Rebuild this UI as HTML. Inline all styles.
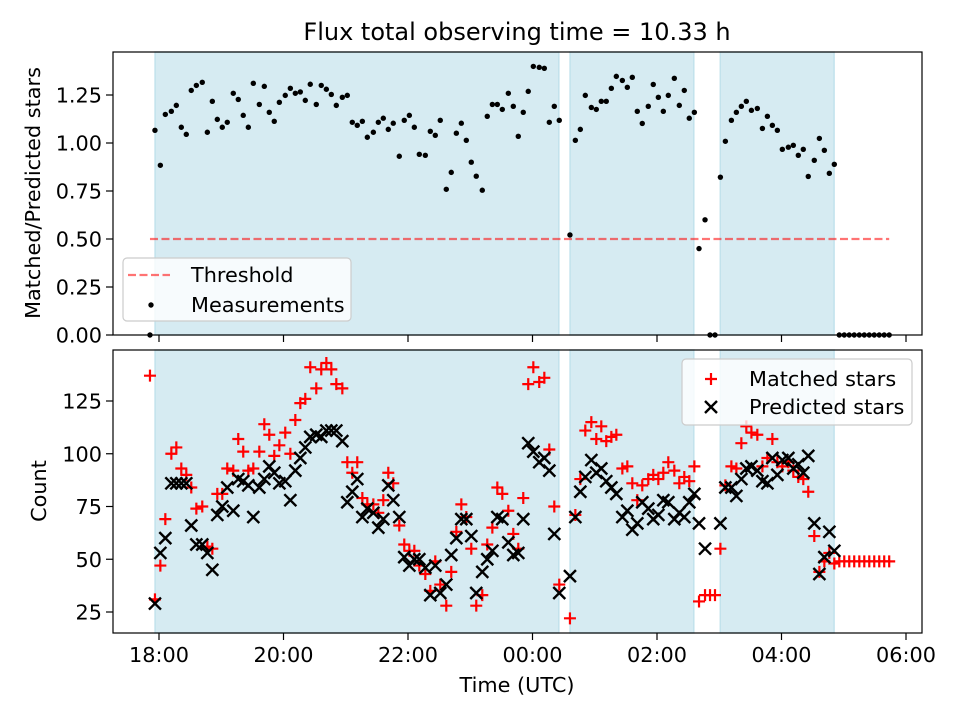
<!DOCTYPE html>
<html><head><meta charset="utf-8"><style>
html,body{margin:0;padding:0;background:#fff;}
svg{display:block;font-family:"DejaVu Sans","Liberation Sans",sans-serif;}
</style></head><body>
<svg id="chart" width="960" height="720" viewBox="0 0 960 720" xmlns="http://www.w3.org/2000/svg"></svg>
<script>
// times in minutes since 18:00 UTC
const times = [-8.7,-3.9,1.3,6.1,11.9,16.7,21.5,26.3,31.1,36.0,41.7,46.6,51.4,56.2,61.0,65.8,71.6,76.4,81.2,86.1,90.9,96.7,101.5,106.3,111.1,116.0,121.7,126.6,131.4,136.2,141.0,145.8,151.6,156.4,161.3,166.1,170.9,176.7,181.5,186.3,191.1,196.0,200.8,206.6,211.4,216.2,221.0,225.8,231.6,236.4,241.3,246.1,250.9,256.7,261.5,266.3,271.1,276.9,281.7,286.6,291.4,296.2,301.0,305.8,311.6,316.4,321.3,326.1,330.9,336.7,341.5,346.3,351.1,355.9,360.8,366.5,371.4,376.2,381.0,385.8,396.1,401.3,406.1,410.9,416.7,421.5,426.3,431.1,436.0,440.8,446.6,451.4,456.2,461.0,465.8,471.6,476.4,481.3,486.1,490.9,496.7,501.5,506.3,511.1,516.0,520.5,526.3,531.1,535.9,541.1,545.9,551.7,556.5,561.3,566.1,571.0,576.7,581.6,586.4,591.2,596.0,600.8,606.6,611.4,616.2,621.0,625.8,631.6,636.5,641.3,646.1,650.9,655.7,660.5,665.3,670.1,675.0,679.8,684.6,689.4,694.2,699.0,703.8];
const ratio = [0,1.066,0.884,1.149,1.165,1.196,1.082,1.045,1.274,1.300,1.316,1.056,1.217,1.123,1.082,1.108,1.259,1.227,1.144,1.082,1.311,1.201,1.295,1.160,1.113,1.212,1.248,1.285,1.259,1.266,1.222,1.306,1.201,1.300,1.280,1.253,1.196,1.238,1.248,1.108,1.092,1.113,1.030,1.056,1.108,1.129,1.071,1.103,0.931,1.118,1.144,1.082,0.941,0.936,1.061,1.040,1.118,0.759,0.847,1.051,1.103,1.014,0.900,0.827,0.754,1.139,1.201,1.201,1.175,1.259,1.191,1.035,1.160,1.269,1.399,1.394,1.389,1.108,1.191,1.118,0.521,1.014,1.071,1.248,1.185,1.175,1.217,1.217,1.285,1.347,1.326,1.290,1.342,1.165,1.102,1.191,1.305,1.238,1.165,1.248,1.337,1.196,1.274,1.129,1.160,0.45,0.60,0,0,0.822,1.009,1.118,1.160,1.191,1.217,1.170,1.180,1.076,1.139,1.092,1.066,0.967,0.978,0.988,0.936,0.967,0.826,0.910,1.024,0.962,0.842,0.889,0,0,0,0,0,0,0,0,0,0,0];
const matched = [137,31,47,69,100,103,93,90,84,74,75,56,55,81,81,93,92,107,101,92,93,101,114,109,99,104,110,100,116,124,126,141,131,140,143,140,133,131,96,91,96,79,76,76,72,78,91,86,66,57,54,54,47,43,35,49,38,28,44,63,76,70,55,28,33,57,65,84,81,73,62,55,79,133,141,134,136,102,75,38,22,71,88,111,115,107,113,106,108,109,93,94,86,78,85,88,90,88,91,96,92,86,89,87,94,30,33,33,33,55,85,94,93,105,113,110,109,94,98,107,96,94,96,92,89,88,82,61,44,49,53,48,49,49,49,49,49,49,49,49,49,49,49];
const predicted = [0,29,53,60,86,86,86,86,66,57,57,53,45,71,75,84,73,88,87,85,70,84,88,94,91,86,87,78,92,98,103,108,109,108,111,111,111,106,77,82,88,70,74,72,65,69,85,78,70,51,47,50,50,46,33,47,34,38,52,60,69,69,61,34,44,50,54,70,69,58,52,53,69,105,101,96,98,92,62,34,42,70,82,89,97,91,93,87,84,81,70,73,64,67,77,74,69,71,78,77,69,72,70,77,81,67,55,0,0,67,84,84,80,88,93,94,92,87,86,98,90,97,98,93,95,91,99,67,43,51,63,54,0,0,0,0,0,0,0,0,0,0,0];
const shadeStart = [-3.9, 396.1, 540.9];
const shadeEnd = [385.5, 515.6, 650.8];
const xTickLabels = ["18:00","20:00","22:00","00:00","02:00","04:00","06:00"];
const xTickMinutes = [0,120,240,360,480,600,720];
const topTicks = [0,0.25,0.5,0.75,1.0,1.25];
const topTickLabels = ["0.00","0.25","0.50","0.75","1.00","1.25"];
const botTicks = [25,50,75,100,125];
const threshold = 0.5;
const thresholdSpan = [-8.7, 703.8];

const NS = "http://www.w3.org/2000/svg";
const svg = document.getElementById('chart');
const L = 113, R = 922, T1 = 52, B1 = 335, T2 = 350, B2 = 633;
const xS = m => 159 + m / 60 * 62.25;
const yTop = v => 335 - v * 192;
const yBot = c => 612 - (c - 25) * 2.11;
const FS = 20.8;

function el(tag, attrs, parent) {
  const e = document.createElementNS(NS, tag);
  for (const k in attrs) e.setAttribute(k, attrs[k]);
  (parent || svg).appendChild(e);
  return e;
}
function txt(s, attrs, parent) { const e = el('text', attrs, parent); e.textContent = s; return e; }

function panel(T, B, name) {
  const g = el('g', {});
  
  
  for (let i = 0; i < shadeStart.length; i++) {
    const r = el('rect', {x: xS(shadeStart[i]), y: T, width: xS(shadeEnd[i]) - xS(shadeStart[i]), height: B - T, fill: '#add8e6', 'fill-opacity': 0.5, stroke: '#add8e6', 'stroke-opacity': 0.6, 'stroke-width': 1.5}, g);
    
    
  }
  return g;
}
function frame(T, B, g) {
  el('rect', {x: L, y: T, width: R - L, height: B - T, fill: 'none', stroke: '#000', 'stroke-width': 1.2}, g);
  xTickMinutes.forEach((m, i) => {
    el('line', {x1: xS(m), x2: xS(m), y1: B, y2: B + 7, stroke: '#000', 'stroke-width': 1.2}, g);
  });
}

// TOP PANEL
const gTop = panel(T1, B1, 'ratio-panel');
const th = el('line', {x1: xS(thresholdSpan[0]), x2: xS(thresholdSpan[1]), y1: yTop(threshold), y2: yTop(threshold), stroke: '#ff0000', 'stroke-opacity': 0.55, 'stroke-width': 2.2, 'stroke-dasharray': '8,3.5'}, gTop);


times.forEach((m, i) => {
  const c = el('circle', {cx: xS(m), cy: yTop(ratio[i]), r: 2.7, fill: '#000'}, gTop);
  
  
});
frame(T1, B1, gTop);
topTicks.forEach((v, i) => {
  el('line', {x1: L - 7, x2: L, y1: yTop(v), y2: yTop(v), stroke: '#000', 'stroke-width': 1.2}, gTop);
  const t = txt(topTickLabels[i], {x: L - 11, y: yTop(v) + 7.5, 'text-anchor': 'end', 'font-size': FS}, gTop);
  
  
});

// BOTTOM PANEL
const gBot = panel(T2, B2, 'count-panel');
const clip = el('clipPath', {id: 'clipb'});
el('rect', {x: L, y: T2, width: R - L, height: B2 - T2}, clip);
const marks = el('g', {'clip-path': 'url(#clipb)'}, gBot);
times.forEach((m, i) => {
  const x = xS(m), y = yBot(matched[i]);
  const p = el('path', {d: `M${x-6},${y}H${x+6}M${x},${y-6}V${y+6}`, stroke: '#ff0000', 'stroke-width': 2.2, fill: 'none'}, marks);
  
  
});
times.forEach((m, i) => {
  const x = xS(m), y = yBot(predicted[i]);
  const p = el('path', {d: `M${x-6},${y-6}L${x+6},${y+6}M${x-6},${y+6}L${x+6},${y-6}`, stroke: '#000', 'stroke-width': 2.4, fill: 'none'}, marks);
  
  
});
frame(T2, B2, gBot);
botTicks.forEach(v => {
  el('line', {x1: L - 7, x2: L, y1: yBot(v), y2: yBot(v), stroke: '#000', 'stroke-width': 1.2}, gBot);
  const t = txt(String(v), {x: L - 11, y: yBot(v) + 7.5, 'text-anchor': 'end', 'font-size': FS}, gBot);
  
  
});
xTickMinutes.forEach((m, i) => {
  const t = txt(xTickLabels[i], {x: xS(m), y: B2 + 29, 'text-anchor': 'middle', 'font-size': FS}, gBot);
  
  
});

// Legends
const lg1 = el('g', {});


el('rect', {x: 123, y: 258, width: 228, height: 63, rx: 4, fill: '#fff', 'fill-opacity': 0.8, stroke: '#ccc', 'stroke-width': 1.2}, lg1);
el('line', {x1: 128, x2: 170, y1: 275, y2: 275, stroke: '#ff0000', 'stroke-opacity': 0.55, 'stroke-width': 2.2, 'stroke-dasharray': '8,3.5'}, lg1);
txt('Threshold', {x: 191, y: 282, 'font-size': FS}, lg1);
el('circle', {cx: 151, cy: 305, r: 2.7, fill: '#000'}, lg1);
txt('Measurements', {x: 191, y: 312, 'font-size': FS}, lg1);

const lg2 = el('g', {});


el('rect', {x: 682, y: 359, width: 230, height: 66, rx: 4, fill: '#fff', 'fill-opacity': 0.8, stroke: '#ccc', 'stroke-width': 1.2}, lg2);
el('path', {d: 'M705,379H717M711,373V385', stroke: '#ff0000', 'stroke-width': 2.2, fill: 'none'}, lg2);
txt('Matched stars', {x: 749, y: 386, 'font-size': FS}, lg2);
el('path', {d: 'M705,401L717,413M705,413L717,401', stroke: '#000', 'stroke-width': 2.4, fill: 'none'}, lg2);
txt('Predicted stars', {x: 749, y: 414, 'font-size': FS}, lg2);

// Titles
let t = txt('Flux total observing time = 10.33 h', {x: 517, y: 40, 'text-anchor': 'middle', 'font-size': 24});


t = txt('Time (UTC)', {x: 517, y: 692, 'text-anchor': 'middle', 'font-size': FS});


t = txt('Matched/Predicted stars', {x: 0, y: 0, 'text-anchor': 'middle', 'font-size': FS, transform: 'translate(40,193) rotate(-90)'});


t = txt('Count', {x: 0, y: 0, 'text-anchor': 'middle', 'font-size': FS, transform: 'translate(46,491) rotate(-90)'});


</script>
</body></html>
